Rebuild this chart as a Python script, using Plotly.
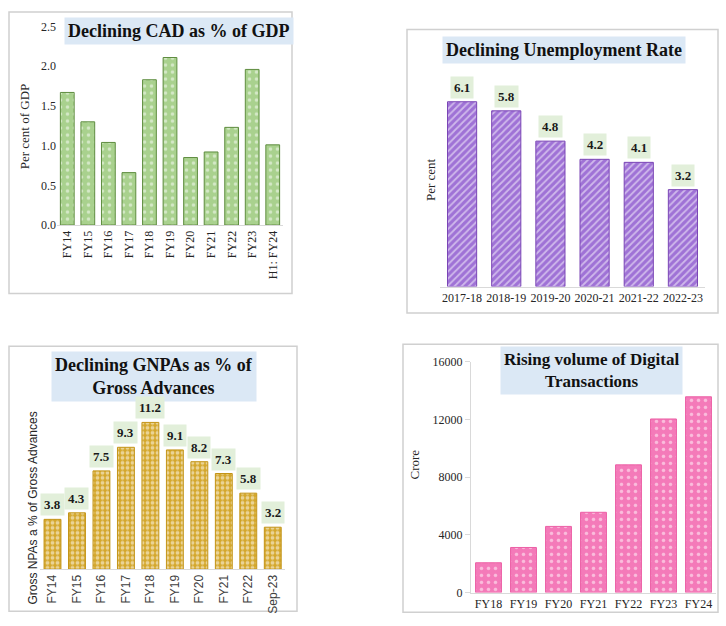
import plotly.graph_objects as go

W, H = 726, 626

# ---------------- data ----------------
cad_years = ["FY14", "FY15", "FY16", "FY17", "FY18", "FY19", "FY20", "FY21", "FY22", "FY23", "H1: FY24"]
cad_values = [1.67, 1.30, 1.04, 0.66, 1.83, 2.11, 0.85, 0.92, 1.23, 1.96, 1.01]

unemp_years = ["2017-18", "2018-19", "2019-20", "2020-21", "2021-22", "2022-23"]
unemp_values = [6.1, 5.8, 4.8, 4.2, 4.1, 3.2]

gnpa_years = ["FY14", "FY15", "FY16", "FY17", "FY18", "FY19", "FY20", "FY21", "FY22", "Sep-23"]
gnpa_values = [3.8, 4.3, 7.5, 9.3, 11.2, 9.1, 8.2, 7.3, 5.8, 3.2]

digi_years = ["FY18", "FY19", "FY20", "FY21", "FY22", "FY23", "FY24"]
digi_values = [2070, 3130, 4590, 5570, 8860, 12040, 13580]

titles = ["Declining CAD as % of GDP", "Declining Unemployment Rate",
          "Declining GNPAs as % of<br>Gross Advances", "Rising volume of Digital<br>Transactions"]
ytitles = ["Per cent of GDP", "Per cent", "Gross NPAs a % of Gross Advances", "Crore"]


def px(x):
    return x / W


def py(y):
    return 1 - y / H


SERIF = "Liberation Serif"
SANS = "Liberation Sans"
TXT = "#262626"

fig = go.Figure()

# Panel 1: CAD
fig.add_trace(go.Bar(
    x=cad_years, y=cad_values, xaxis="x", yaxis="y",
    marker=dict(color="#a9d18e", line=dict(color="#5e8c3f", width=1),
                pattern=dict(shape=".", fgcolor="white", bgcolor="#a9d18e", size=7, solidity=0.2)),
    width=0.67, showlegend=False, hoverinfo="x+y"))

# Panel 2: Unemployment
fig.add_trace(go.Bar(
    x=unemp_years, y=unemp_values, xaxis="x2", yaxis="y2",
    marker=dict(color="#9f72d6", line=dict(color="#7a45b5", width=1),
                pattern=dict(shape="/", fgcolor="white", bgcolor="#9f72d6", size=5, solidity=0.35)),
    width=0.66, showlegend=False, hoverinfo="x+y"))

# Panel 3: GNPA
fig.add_trace(go.Bar(
    x=gnpa_years, y=gnpa_values, xaxis="x3", yaxis="y3",
    marker=dict(color="#d4a72c", line=dict(color="#c39417", width=1),
                pattern=dict(shape=".", fgcolor="white", bgcolor="#d4a72c", size=5, solidity=0.45)),
    width=0.69, showlegend=False, hoverinfo="x+y"))

# Panel 4: Digital
fig.add_trace(go.Bar(
    x=digi_years, y=digi_values, xaxis="x4", yaxis="y4",
    marker=dict(color="#f47ab9", line=dict(color="#ec5fa5", width=1),
                pattern=dict(shape=".", fgcolor="white", bgcolor="#f47ab9", size=7, solidity=0.2)),
    width=0.74, showlegend=False, hoverinfo="x+y"))

tickfont_serif = dict(family=SERIF, size=12, color=TXT)
base_x = dict(showgrid=False, zeroline=False, showline=True, linecolor="#d9d9d9", linewidth=1,
              ticks="", fixedrange=True)

fig.update_layout(
    width=W, height=H, margin=dict(l=0, r=0, t=0, b=0),
    paper_bgcolor="white", plot_bgcolor="white",
    bargap=0.3,
    xaxis=dict(base_x, domain=[px(57), px(283)], anchor="y", tickangle=-90, tickfont=tickfont_serif),
    yaxis=dict(domain=[py(223), py(20)], anchor="x", range=[0, 2.5], dtick=0.5, tickformat=".1f",
               showgrid=False, zeroline=False, showline=False, ticks="", tickfont=tickfont_serif),
    xaxis2=dict(base_x, domain=[px(440), px(705)], anchor="y2", tickangle=0, tickfont=tickfont_serif),
    yaxis2=dict(domain=[py(286), py(69)], anchor="x2", range=[0, 7], showticklabels=False,
                showgrid=False, zeroline=False, showline=False, ticks=""),
    xaxis3=dict(base_x, domain=[px(40), px(285)], anchor="y3", tickangle=-90,
                tickfont=dict(family=SANS, size=12, color="#404040")),
    yaxis3=dict(domain=[py(575), py(407.5)], anchor="x3", range=[0, 12.5], showticklabels=False,
                showgrid=False, zeroline=False, showline=False, ticks=""),
    xaxis4=dict(base_x, domain=[px(471), px(716)], anchor="y4", tickangle=0, tickfont=tickfont_serif),
    yaxis4=dict(domain=[py(599), py(363)], anchor="x4", range=[0, 16000], dtick=4000, tickformat="d",
                showgrid=False, zeroline=False, showline=True, linecolor="#d9d9d9", linewidth=1,
                ticks="outside", ticklen=5, tickcolor="#d9d9d9", tickfont=tickfont_serif),
)

# panel borders
for (x0, y0, x1, y1) in [(9, 5, 292, 293), (407, 23, 718, 313), (9, 347, 297, 618), (403, 345, 718, 619)]:
    fig.add_shape(type="rect", xref="paper", yref="paper", x0=px(x0), x1=px(x1), y0=py(y1), y1=py(y0),
                  line=dict(color="#d0d0d0", width=1.5), fillcolor="rgba(0,0,0,0)", layer="below")

# title boxes
title_pos = [((67 + 290) / 2, 25, 18), ((444 + 683) / 2, 43.5, 18), ((52 + 256) / 2, 378, 18), ((495 + 687) / 2, 372, 17)]
for t, (cx, cy, fs) in zip(titles, title_pos):
    fig.add_annotation(text="<b>" + t + "</b>", xref="paper", yref="paper", x=px(cx), y=py(cy),
                       xanchor="center", yanchor="middle", showarrow=False,
                       font=dict(family=SERIF, size=fs, color="#111111"),
                       bgcolor="#dbe8f5", borderpad=3)

# y-axis titles
ytitle_pos = [(24, 122, SERIF, 13), (430, 177, SERIF, 13), (33, 513, SANS, 12), (415, 468, SERIF, 13)]
for t, (cx, cy, fam, fs) in zip(ytitles, ytitle_pos):
    fig.add_annotation(text=t, xref="paper", yref="paper", x=px(cx), y=py(cy), textangle=-90,
                       xanchor="center", yanchor="middle", showarrow=False,
                       font=dict(family=fam, size=fs, color=TXT))

# data labels
for xs, ys, xr, yr in [(unemp_years, unemp_values, "x2", "y2"), (gnpa_years, gnpa_values, "x3", "y3")]:
    for xv, yv in zip(xs, ys):
        fig.add_annotation(text="<b>%.1f</b>" % yv, x=xv, y=yv, xref=xr, yref=yr,
                           yanchor="bottom", yshift=3, showarrow=False,
                           font=dict(family=SERIF, size=13, color="#1a1a1a"),
                           bgcolor="#e2efda", borderpad=3)

fig.write_html("out.html", config={"displayModeBar": False},
               post_script="document.body.style.margin='0px';")
